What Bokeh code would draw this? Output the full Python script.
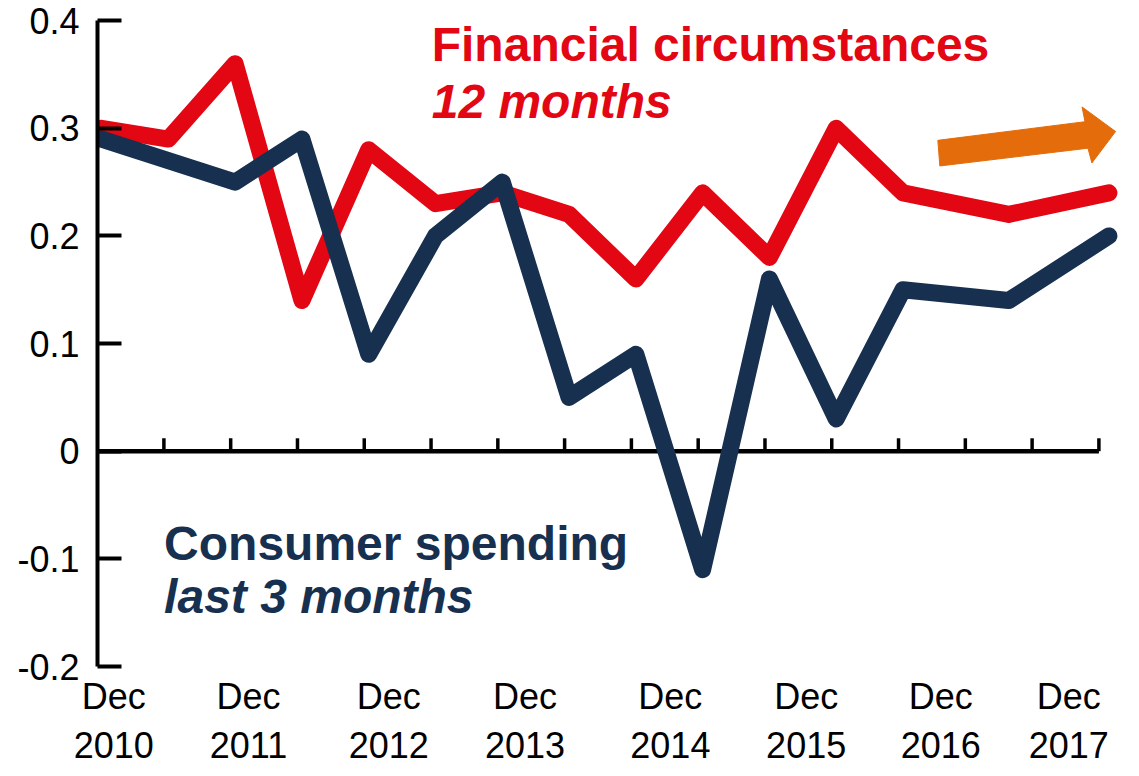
from bokeh.plotting import figure
from bokeh.models import Range1d, FixedTicker, Label, LinearAxis
from bokeh.embed import file_html
from bokeh.resources import INLINE

# ---- data -------------------------------------------------------------
# x: months after the December 2010 survey
months = [0, 6, 12, 18, 24, 30, 36, 42, 48, 54, 60, 66, 72, 81.5, 90.5]
financial_12m = [0.30, 0.29, 0.36, 0.14, 0.28, 0.23, 0.24, 0.22, 0.16, 0.24,
                 0.18, 0.30, 0.24, 0.22, 0.24]
spending_3m = [0.29, 0.27, 0.25, 0.29, 0.09, 0.20, 0.25, 0.05, 0.09, -0.11,
               0.16, 0.03, 0.15, 0.14, 0.20]

ytick_values = [-0.2, -0.1, 0.0, 0.1, 0.2, 0.3, 0.4]
ytick_labels = ["-0.2", "-0.1", "0", "0.1", "0.2", "0.3", "0.4"]

xlabel_pos = [1.1, 13.2, 25.8, 38.05, 51.1, 63.3, 75.4, 86.9]
xlabel_month = ["Dec"] * 8
xlabel_year = ["2010", "2011", "2012", "2013", "2014", "2015", "2016", "2017"]

zero_ticks = [-0.4 + 6 * k for k in range(16)]

RED = "#E30613"
NAVY = "#17304F"
ORANGE = "#E46C0A"
FONT = "Liberation Sans"

X_START, X_END = -0.365, 91.81
Y_START, Y_END = -0.2, 0.4187

# ---- figure -----------------------------------------------------------
p = figure(width=1123, height=760,
           x_range=Range1d(X_START, X_END), y_range=Range1d(Y_START, Y_END),
           output_backend="svg", toolbar_location=None,
           x_axis_location=None,
           min_border_left=97, min_border_right=0,
           min_border_top=0, min_border_bottom=0)
p.outline_line_color = None
p.xgrid.visible = False
p.ygrid.visible = False
p.background_fill_color = "white"
p.border_fill_color = "white"

ax = p.yaxis[0]
ax.ticker = FixedTicker(ticks=ytick_values)
ax.major_label_overrides = {v: l for v, l in zip(ytick_values, ytick_labels)}
ax.bounds = (ytick_values[0], ytick_values[-1])
ax.axis_line_width = 4
ax.axis_line_color = "black"
ax.major_tick_line_width = 4
ax.major_tick_line_color = "black"
ax.major_tick_in = 24
ax.major_tick_out = 0
ax.minor_tick_line_color = None
ax.major_label_standoff = 18
ax.major_label_text_font = FONT
ax.major_label_text_font_size = "36px"
ax.major_label_text_color = "black"

# two label rows below the frame: "Dec" then the year
for labels, standoff in [(xlabel_month, 9), (xlabel_year, 12)]:
    xa = LinearAxis(ticker=FixedTicker(ticks=xlabel_pos),
                    major_label_overrides={v: l for v, l in zip(xlabel_pos, labels)},
                    axis_line_color=None, major_tick_line_color=None,
                    minor_tick_line_color=None, major_tick_in=0,
                    major_tick_out=0, major_label_standoff=standoff,
                    major_label_text_font=FONT,
                    major_label_text_font_size="36px",
                    major_label_text_color="black")
    p.add_layout(xa, "below")

# zero line with its ticks
p.segment(x0=[X_START], y0=[0], x1=[zero_ticks[-1]], y1=[0],
          line_color="black", line_width=4.5)
p.segment(x0=zero_ticks, y0=[0] * len(zero_ticks),
          x1=zero_ticks, y1=[0.012] * len(zero_ticks),
          line_color="black", line_width=3.5)

# series
p.line(months, financial_12m, line_color=RED, line_width=17,
       line_join="round", line_cap="round")
p.line(months, spending_3m, line_color=NAVY, line_width=17,
       line_join="round", line_cap="round")

# orange arrow
arrow_x = [75.13, 88.35, 88.09, 91.10, 88.97, 88.62, 75.31]
arrow_y = [0.2888, 0.3061, 0.3198, 0.2970, 0.2678, 0.2815, 0.2650]
p.patch(arrow_x, arrow_y, fill_color=ORANGE, line_color=ORANGE, line_width=1)

# annotations (baseline positions, raised to compensate Label offset)
LIFT = 0.0163
for txt, x, y, style, col in [
    ("Financial circumstances", 29.66, 0.3612, "bold", RED),
    ("12 months", 29.66, 0.3084, "bold italic", RED),
    ("Consumer spending", 5.62, -0.1020, "bold", NAVY),
    ("last 3 months", 5.62, -0.1512, "bold italic", NAVY),
]:
    p.add_layout(Label(x=x, y=y + LIFT, text=txt, text_font=FONT,
                       text_font_style=style, text_font_size="48px",
                       text_color=col, text_align="left",
                       text_baseline="alphabetic"))

open("out.html", "w").write(file_html(p, INLINE))
